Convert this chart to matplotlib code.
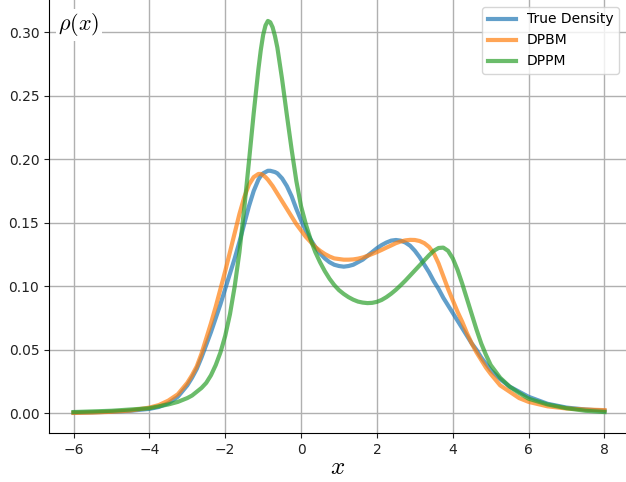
import matplotlib
matplotlib.use("Agg")
import matplotlib.pyplot as plt

plt.rcParams["mathtext.fontset"] = "cm"

x_vals = [-6, -5.5, -5, -4.5, -4, -3.75, -3.5, -3.25,
          -3, -2.875, -2.75, -2.625, -2.5, -2.375, -2.25, -2.125,
          -2, -1.875, -1.75, -1.625, -1.5, -1.375, -1.25, -1.125,
          -1.0625, -1, -0.9375, -0.875, -0.8125, -0.75, -0.6875, -0.625,
          -0.5, -0.375, -0.25, -0.125,
          0, 0.125, 0.25, 0.375, 0.5, 0.625, 0.75, 0.875, 1,
          1.125, 1.25, 1.375, 1.5, 1.625, 1.75, 1.875, 2,
          2.125, 2.25, 2.375, 2.5, 2.625, 2.75, 2.875, 3,
          3.125, 3.25, 3.375, 3.5, 3.625, 3.75, 3.875, 4,
          4.125, 4.25, 4.375, 4.5, 4.625, 4.75, 4.875, 5,
          5.25, 5.5, 5.75, 6, 6.5, 7, 7.5, 8]

true_density = [0.0005, 0.0008, 0.0013, 0.002, 0.0035, 0.005, 0.008, 0.013,
                0.022, 0.028, 0.035, 0.044, 0.054, 0.064, 0.075, 0.086,
                0.098, 0.110, 0.122, 0.135, 0.149, 0.163, 0.175, 0.184,
                0.187, 0.189, 0.190, 0.191, 0.191, 0.1905, 0.190, 0.189,
                0.185, 0.179, 0.171, 0.161,
                0.152, 0.144, 0.137, 0.131, 0.126, 0.122, 0.119, 0.117, 0.116,
                0.1155, 0.116, 0.117, 0.119, 0.121, 0.124, 0.127, 0.130,
                0.1325, 0.1345, 0.136, 0.1365, 0.136, 0.1345, 0.132, 0.128,
                0.123, 0.117, 0.111, 0.104, 0.098, 0.091, 0.085, 0.079,
                0.073, 0.067, 0.061, 0.055, 0.050, 0.044, 0.039, 0.034,
                0.027, 0.021, 0.017, 0.013, 0.0075, 0.0045, 0.003, 0.002]

dpbm = [0.0003, 0.0006, 0.0012, 0.0022, 0.0045, 0.0065, 0.010, 0.015,
        0.024, 0.030, 0.037, 0.047, 0.059, 0.071, 0.084, 0.098,
        0.112, 0.127, 0.142, 0.157, 0.170, 0.180, 0.186, 0.1885,
        0.1885, 0.1875, 0.186, 0.184, 0.1815, 0.179, 0.176, 0.173,
        0.167, 0.161, 0.155, 0.149,
        0.144, 0.139, 0.135, 0.131, 0.128, 0.1255, 0.1235, 0.122, 0.1215,
        0.121, 0.121, 0.1212, 0.1218, 0.1227, 0.124, 0.1255, 0.127,
        0.1287, 0.1305, 0.1322, 0.134, 0.1353, 0.1362, 0.1366, 0.1365,
        0.1357, 0.134, 0.131, 0.126, 0.118, 0.108, 0.098, 0.089,
        0.080, 0.072, 0.063, 0.055, 0.048, 0.042, 0.036, 0.031,
        0.022, 0.017, 0.012, 0.009, 0.0055, 0.0038, 0.003, 0.0025]

dppm = [0.001, 0.0015, 0.002, 0.003, 0.004, 0.0055, 0.007, 0.009,
        0.012, 0.014, 0.017, 0.020, 0.024, 0.030, 0.038, 0.048,
        0.061, 0.078, 0.100, 0.127, 0.161, 0.198, 0.236, 0.271,
        0.286, 0.298, 0.3055, 0.309, 0.308, 0.304, 0.297, 0.288,
        0.263, 0.235, 0.208, 0.183,
        0.163, 0.149, 0.137, 0.127, 0.119, 0.112, 0.106, 0.101, 0.097,
        0.094, 0.0915, 0.0895, 0.088, 0.0872, 0.0868, 0.087, 0.0878,
        0.0893, 0.0915, 0.0942, 0.0973, 0.1008, 0.1045, 0.1085, 0.1125,
        0.1165, 0.1205, 0.1245, 0.128, 0.1302, 0.1305, 0.128, 0.122,
        0.113, 0.102, 0.090, 0.078, 0.066, 0.055, 0.046, 0.038,
        0.028, 0.021, 0.016, 0.0115, 0.007, 0.004, 0.002, 0.001]

series_names = ["True Density", "DPBM", "DPPM"]
series_colors = ["#1f77b4", "#ff7f0e", "#2ca02c"]

fig = plt.figure(figsize=(6.26, 4.82), dpi=100)
ax = fig.add_axes([49 / 626, 49 / 482, (626 - 49) / 626, 433 / 482])

for ys, name, col in zip([true_density, dpbm, dppm], series_names, series_colors):
    ax.plot(x_vals, ys, color=col, lw=3, alpha=0.7, label=name)

ax.set_xlim(-6.646, 8.567)
ax.set_ylim(-0.0155, 0.3255)
ax.set_xticks([-6, -4, -2, 0, 2, 4, 6, 8])
ax.set_yticks([0.0, 0.05, 0.10, 0.15, 0.20, 0.25, 0.30])
ax.set_yticklabels(["0.00", "0.05", "0.10", "0.15", "0.20", "0.25", "0.30"])
ax.tick_params(labelsize=10, colors="#222222")
ax.grid(True, color="#b0b0b0", lw=1.0)
ax.set_axisbelow(True)
for s in ["top", "right"]:
    ax.spines[s].set_visible(False)

ax.set_xlabel(r"$x$", fontsize=18, labelpad=-1)
ax.text(0.016, 0.943, r"$\rho(x)$", transform=ax.transAxes, fontsize=16,
        ha="left", va="center",
        bbox=dict(facecolor="white", edgecolor="none", pad=2))

ax.legend(loc="upper right", fontsize=10, framealpha=0.8)

fig.savefig("out.png", dpi=100)
